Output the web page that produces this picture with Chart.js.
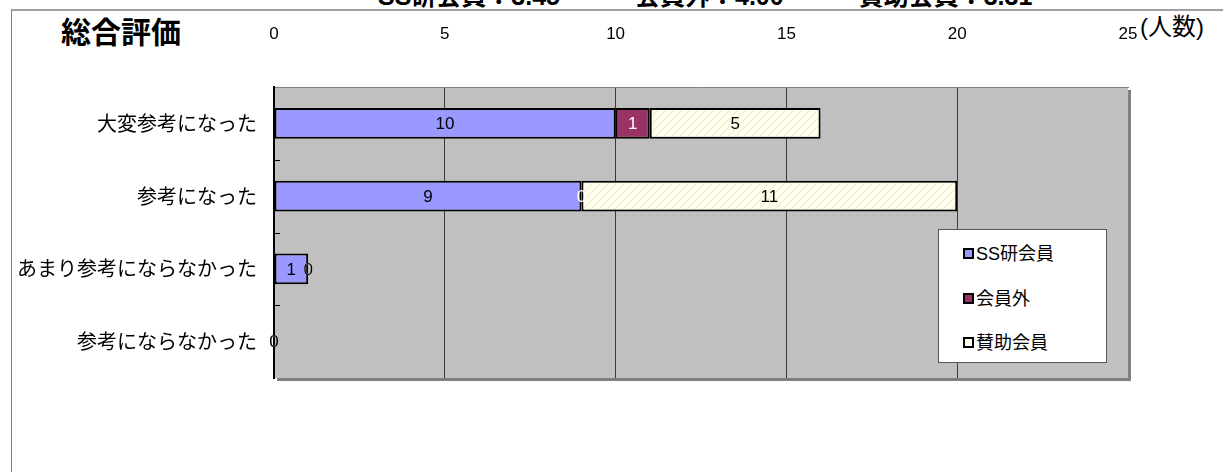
<!DOCTYPE html>
<html>
<head>
<meta charset="utf-8">
<script src="https://cdn.jsdelivr.net/npm/chart.js@4.4.1/dist/chart.umd.min.js"></script>
<style>
  body { margin: 0; background: #fff; width: 1223px; height: 472px; overflow: hidden; position: relative;
         font-family: "Liberation Sans", "Noto Sans CJK JP", sans-serif; }
  #chart { position: absolute; left: 0; top: 0; }
  #frame { position: absolute; left: 11px; top: 9px; width: 1220px; height: 470px;
           border-left: 1px solid #808080; border-top: 2px solid #a0a0a0; }
  #summary { position: absolute; left: 378px; top: -16px; font-size: 25px; line-height: 25px;
             font-weight: bold; white-space: pre; }
  #title { position: absolute; left: 61px; top: 15px; font-size: 30px; line-height: 30px; font-weight: bold;
           font-family: "Noto Sans CJK JP", sans-serif; }
  #unit { position: absolute; left: 1140px; top: 14px; font-size: 24px; line-height: 26px; }
  #legend { position: absolute; left: 938px; top: 229px; width: 167px; height: 132px;
            background: #fff; border: 1px solid #555; }
  .item { position: absolute; left: 24px; font-size: 18px; line-height: 20px; white-space: nowrap; }
  .mark { display: inline-block; width: 7px; height: 7px; border: 2px solid #000; margin-right: 2px;
          vertical-align: 1px; }
</style>
</head>
<body>
<div id="frame"></div>
<div id="summary"></div>
<div id="title">総合評価</div>
<div id="unit">(人数)</div>
<canvas id="chart" width="1223" height="472"></canvas>
<div id="legend"></div>
<script>
const categories = ["大変参考になった", "参考になった", "あまり参考にならなかった", "参考にならなかった"];
const seriesNames = ["SS研会員", "会員外", "賛助会員"];
const ssValues = [10, 9, 1, 0];
const outsideValues = [1, 0, 0, 0];
const supportValues = [5, 11, 0, 0];
const xTicks = [0, 5, 10, 15, 20, 25];
const summaryText = "SS研会員：3.45　　　会員外：4.00　　　賛助会員：3.31";

const seriesColors = ["#9999ff", "#993366", "#fffff0"];
const labelColors = ["#000", "#fff", "#000"];

document.getElementById("summary").textContent = summaryText;

// light diagonal hatch for the supporting members
function hatch() {
  const c = document.createElement("canvas");
  c.width = 8; c.height = 8;
  const g = c.getContext("2d");
  g.fillStyle = "#fffff0";
  g.fillRect(0, 0, 8, 8);
  g.strokeStyle = "#f3efd6";
  g.lineWidth = 1.5;
  g.beginPath();
  g.moveTo(0, 8); g.lineTo(8, 0);
  g.moveTo(-2, 2); g.lineTo(2, -2);
  g.moveTo(6, 10); g.lineTo(10, 6);
  g.stroke();
  return g.createPattern(c, "repeat");
}

// legend box
const legend = document.getElementById("legend");
seriesNames.forEach((name, i) => {
  const el = document.createElement("div");
  el.className = "item";
  el.style.top = (14 + i * 44.5) + "px";
  el.innerHTML = `<span class="mark" style="background:${seriesColors[i]}"></span>${name}`;
  legend.appendChild(el);
});

const plotBack = {
  id: "plotBack",
  beforeDraw(chart) {
    const { ctx, chartArea: a } = chart;
    ctx.save();
    ctx.fillStyle = "#808080";
    ctx.fillRect(a.left + 3, a.top + 3, a.right - a.left, a.bottom - a.top);
    ctx.fillStyle = "#c0c0c0";
    ctx.fillRect(a.left, a.top, a.right - a.left, a.bottom - a.top);
    ctx.restore();
  },
  afterDraw(chart) {
    // small inner ticks between categories
    const { ctx, chartArea: a } = chart;
    const y = chart.scales.y;
    ctx.save();
    ctx.strokeStyle = "#000";
    ctx.lineWidth = 1;
    for (let i = 0; i < categories.length - 1; i++) {
      const p = Math.round((y.getPixelForValue(i) + y.getPixelForValue(i + 1)) / 2) + 0.5;
      ctx.beginPath();
      ctx.moveTo(a.left, p);
      ctx.lineTo(a.left + 6, p);
      ctx.stroke();
    }
    ctx.restore();
  }
};

const barLabels = {
  id: "barLabels",
  afterDatasetsDraw(chart) {
    const ctx = chart.ctx;
    ctx.save();
    ctx.font = "17px 'Liberation Sans', sans-serif";
    ctx.textAlign = "center";
    ctx.textBaseline = "middle";
    chart.data.datasets.forEach((ds, di) => {
      chart.getDatasetMeta(di).data.forEach((bar, i) => {
        ctx.fillStyle = labelColors[di];
        ctx.fillText(String(ds.data[i]), (bar.x + bar.base) / 2, bar.y + 1);
      });
    });
    ctx.restore();
  }
};

const seriesData = [ssValues, outsideValues, supportValues];
const pattern = hatch();

new Chart(document.getElementById("chart").getContext("2d"), {
  type: "bar",
  data: {
    labels: categories,
    datasets: seriesNames.map((name, i) => ({
      label: name,
      data: seriesData[i],
      backgroundColor: i === 2 ? pattern : seriesColors[i],
      borderColor: "#000",
      borderWidth: (c) => (c.raw === 0 ? 0 : 2),
      borderSkipped: false,
      categoryPercentage: 1,
      barPercentage: 0.42
    }))
  },
  options: {
    indexAxis: "y",
    responsive: false,
    animation: false,
    devicePixelRatio: 1,
    layout: { padding: { left: 0, top: 0, right: 95, bottom: 94 } },
    plugins: { legend: { display: false }, tooltip: { enabled: false } },
    scales: {
      x: {
        position: "top",
        stacked: true,
        min: 0,
        max: 25,
        afterFit: (s) => { s.height = 87; },
        afterBuildTicks: (s) => { s.ticks = xTicks.map((v) => ({ value: v })); },
        ticks: { color: "#000", font: { size: 17 }, padding: 42, maxRotation: 0 },
        grid: {
          drawTicks: false,
          color: (c) => (c.tick && (c.tick.value === 0 || c.tick.value === 25) ? "rgba(0,0,0,0)" : "#3a3a3a"),
          lineWidth: 1
        },
        border: { color: "#808080", width: 1 }
      },
      y: {
        stacked: true,
        afterFit: (s) => { s.width = 274; },
        ticks: { color: "#000", font: { size: 20, family: "'Noto Sans CJK JP', sans-serif" }, padding: 17 },
        grid: { display: false, drawTicks: false },
        border: { color: "#000", width: 2 }
      }
    }
  },
  plugins: [plotBack, barLabels]
});
</script>
</body>
</html>
